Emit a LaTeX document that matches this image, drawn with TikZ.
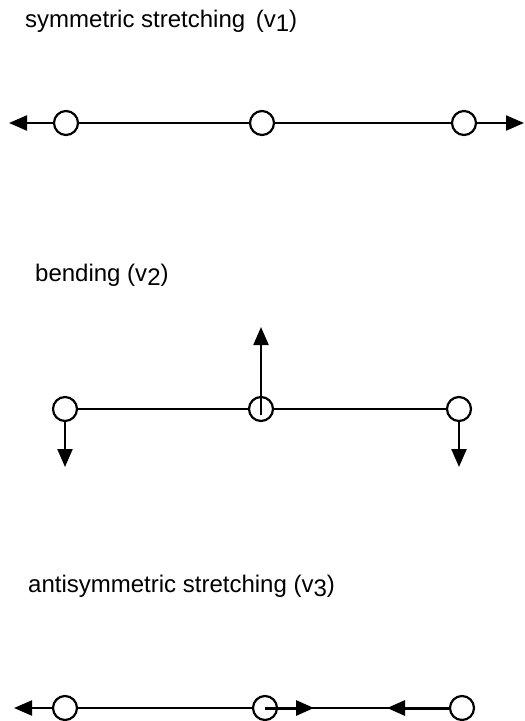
\documentclass[tikz,border=0pt]{standalone}
\usepackage{fontspec}
\setmainfont{Liberation Sans}
\usetikzlibrary{arrows.meta}
\begin{document}
\begin{tikzpicture}[x=1pt,y=-1pt,
  atom/.style={circle,draw,line width=2.2pt,minimum size=24pt,inner sep=0pt,fill=white},
  bond/.style={line width=2pt},
  motion/.style={line width=2.2pt,-{Triangle[length=18pt,width=15pt]}},
  title/.style={anchor=base west,inner sep=0pt,font=\fontsize{24}{28}\selectfont}]
\useasboundingbox (0,0) rectangle (525,721);
\newcommand{\lowsub}[1]{\raisebox{-4pt}{#1}}

% symmetric stretching
\node[title] (t1) at (25,27) {symmetric stretching \,(v\lowsub{1})};
\node[atom] (a1) at (66,123) {};
\node[atom] (a2) at (262,123) {};
\node[atom] (a3) at (464,123) {};
\coordinate (a1tip) at (9,123);
\coordinate (a3tip) at (524,123);
\draw[bond] (a1) -- (a2);
\draw[bond] (a2) -- (a3);
\draw[motion] (a1) -- (a1tip);
\draw[motion] (a3) -- (a3tip);

% bending
\node[title] (t2) at (35,281) {bending (v\lowsub{2})};
\node[atom] (b1) at (65,409) {};
\node[atom] (b2) at (261,409) {};
\node[atom] (b3) at (459,409) {};
\coordinate (b1tip) at (65,467);
\coordinate (b2tip) at (261,327);
\coordinate (b3tip) at (459,467);
\draw[bond] (b1) -- (b2);
\draw[bond] (b2) -- (b3);
\draw[motion] (b1) -- (b1tip);
\draw[motion] ([yshift=-6pt]b2.center) -- (b2tip);
\draw[motion] (b3) -- (b3tip);

% antisymmetric stretching
\node[title] (t3) at (28,592) {antisymmetric stretching (v\lowsub{3})};
\node[atom] (c1) at (65,708) {};
\node[atom] (c2) at (265,708) {};
\node[atom] (c3) at (462,708) {};
\coordinate (c1tip) at (14,708);
\coordinate (c2tip) at (314,708);
\coordinate (c3tip) at (387,708);
\draw[bond] (c1) -- (c2);
\draw[bond] (c2) -- (c3);
\draw[motion] (c1) -- (c1tip);
\draw[motion,line width=3pt] (c2.center) -- (c2tip);
\draw[motion,line width=3pt] (c3) -- (c3tip);
\end{tikzpicture}
\end{document}
